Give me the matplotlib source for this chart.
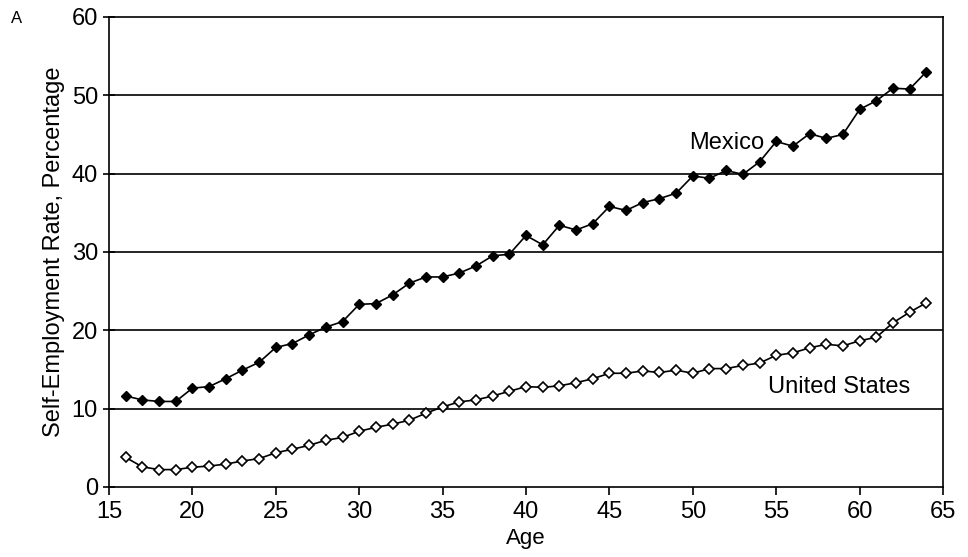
import matplotlib.pyplot as plt
import numpy as np

plt.rcParams['font.family'] = ['Liberation Sans', 'DejaVu Sans']

# ages 16 to 64
ages = list(range(16, 65))

# self-employment rate by age
mexico = [11.6, 11.1, 10.9, 10.9, 12.6, 12.8, 13.8, 14.9, 15.9, 17.8,
          18.3, 19.4, 20.4, 21.1, 23.3, 23.4, 24.5, 26.0, 26.8, 26.8,
          27.3, 28.2, 29.5, 29.7, 32.1, 30.9, 33.4, 32.8, 33.6, 35.8,
          35.3, 36.3, 36.8, 37.5, 39.7, 39.4, 40.4, 39.9, 41.5, 44.1,
          43.5, 45.1, 44.5, 45.0, 48.2, 49.3, 50.9, 50.8, 53.0]
united_states = [3.75, 2.55, 2.2, 2.2, 2.5, 2.65, 2.9, 3.3, 3.6, 4.35,
                 4.8, 5.3, 5.95, 6.3, 7.1, 7.6, 8.0, 8.5, 9.4, 10.2,
                 10.85, 11.1, 11.6, 12.2, 12.8, 12.7, 12.9, 13.3, 13.8, 14.5,
                 14.5, 14.8, 14.6, 14.9, 14.5, 15.1, 15.1, 15.5, 15.8, 16.8,
                 17.1, 17.75, 18.2, 18.0, 18.65, 19.1, 20.95, 22.3, 23.5]

xticks = list(range(15, 70, 5))
yticks = list(range(0, 70, 10))

fig = plt.figure(figsize=(9.68, 5.57), dpi=100)
ax = fig.add_axes([0.1126, 0.126, 0.8616, 0.8435])

# horizontal gridlines at every major y tick
for y in yticks[1:-1]:
    ax.axhline(y, color='black', linewidth=1.2, zorder=1)

ax.plot(ages, mexico, color='black', linewidth=1.2, marker='D',
        markersize=5.5, markerfacecolor='black', markeredgecolor='black',
        zorder=3)
ax.plot(ages, united_states, color='black', linewidth=1.2, marker='D',
        markersize=5.5, markerfacecolor='white', markeredgecolor='black',
        markeredgewidth=1.2, zorder=3)

ax.text(49.8, 43.9, 'Mexico', fontsize=17, va='center', ha='left')
ax.text(54.5, 12.7, 'United States', fontsize=17, va='center', ha='left')

ax.set_xlim(15, 65)
ax.set_ylim(0, 60)
ax.set_xticks(xticks)
ax.set_yticks(yticks)
ax.tick_params(axis='x', direction='out', length=6, width=1.2,
               labelsize=17, pad=4)
ax.tick_params(axis='y', direction='inout', length=8, width=1.2,
               labelsize=17, pad=4)
for s in ax.spines.values():
    s.set_linewidth(1.2)

ax.set_xlabel('Age', fontsize=16, labelpad=4)
ax.set_ylabel('Self-Employment Rate, Percentage', fontsize=17, labelpad=5)
fig.text(0.011, 0.967, 'A', fontsize=12, va='center')

fig.savefig('out.png', dpi=100)
